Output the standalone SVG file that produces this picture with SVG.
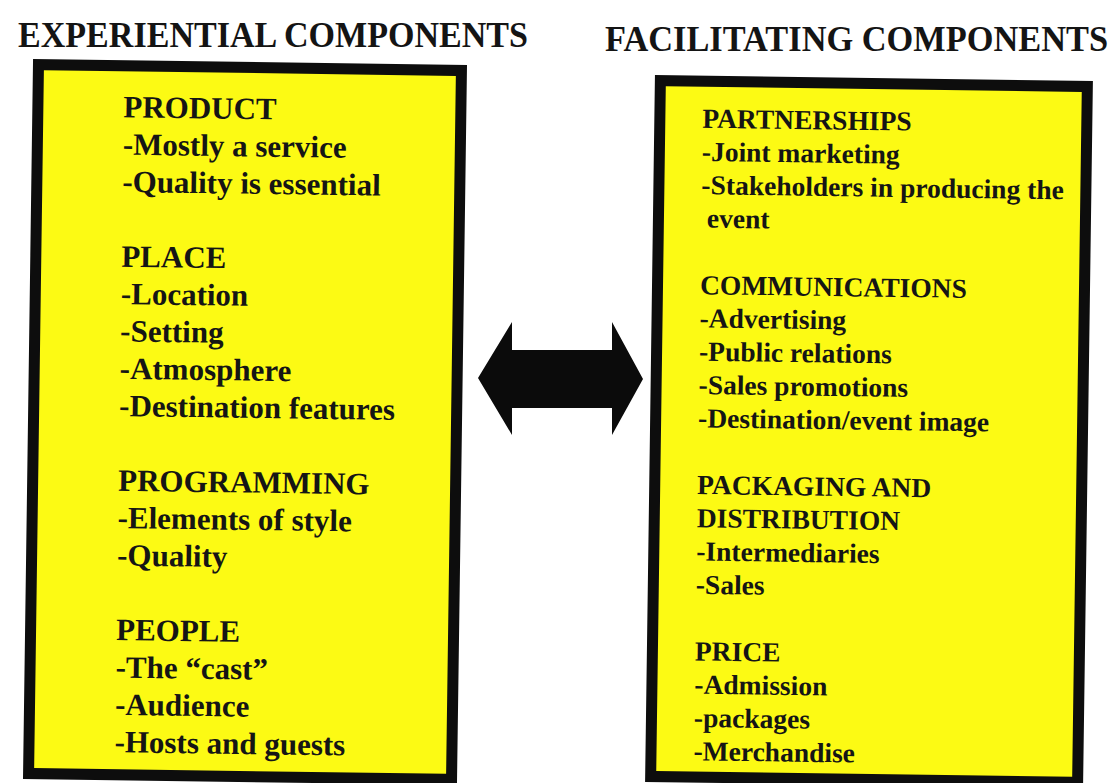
<svg xmlns="http://www.w3.org/2000/svg" width="1117" height="783" viewBox="0 0 1117 783">
  <style>
    .title { font-family: "Liberation Serif", "Times New Roman", serif; font-weight: bold; font-size: 35px; fill: #141414; }
    .box { fill: #FCFA14; stroke: #0d0d0d; stroke-width: 11; }
    .lt { font-family: "Liberation Serif", "Times New Roman", serif; font-weight: bold; font-size: 31px; fill: #151515; }
    .rt { font-family: "Liberation Serif", "Times New Roman", serif; font-weight: bold; font-size: 27.5px; fill: #151515; }
    .arrow { fill: #0b0b0b; }
  </style>
  <rect width="1117" height="783" fill="#ffffff"/>

  <!-- column headings -->
  <g id="headings">
    <text class="title" x="18" y="47" textLength="510" lengthAdjust="spacingAndGlyphs">EXPERIENTIAL COMPONENTS</text>
    <text class="title" x="605" y="51" textLength="503" lengthAdjust="spacingAndGlyphs">FACILITATING COMPONENTS</text>
  </g>

  <!-- left panel: experiential components -->
  <g id="experiential" transform="rotate(0.8 245 422)">
    <rect class="box" x="33.5" y="67.5" width="423" height="709"/>
    <text class="lt" x="119" y="119">PRODUCT</text>
    <text class="lt" x="119" y="156.4">-Mostly a service</text>
    <text class="lt" x="119" y="193.7">-Quality is essential</text>
    <text class="lt" x="119" y="268.4">PLACE</text>
    <text class="lt" x="119" y="305.8">-Location</text>
    <text class="lt" x="119" y="343.1">-Setting</text>
    <text class="lt" x="119" y="380.5">-Atmosphere</text>
    <text class="lt" x="119" y="417.8">-Destination features</text>
    <text class="lt" x="119" y="492.5">PROGRAMMING</text>
    <text class="lt" x="119" y="529.9">-Elements of style</text>
    <text class="lt" x="119" y="567.2">-Quality</text>
    <text class="lt" x="119" y="641.9">PEOPLE</text>
    <text class="lt" x="119" y="679.3">-The “cast”</text>
    <text class="lt" x="119" y="716.6">-Audience</text>
    <text class="lt" x="119" y="754">-Hosts and guests</text>
  </g>

  <!-- right panel: facilitating components -->
  <g id="facilitating" transform="rotate(0.8 869 431)">
    <rect class="box" x="655.5" y="83.5" width="427" height="696"/>
    <text class="rt" x="698" y="130">PARTNERSHIPS</text>
    <text class="rt" x="698" y="163.3">-Joint marketing</text>
    <text class="rt" x="698" y="196.6">-Stakeholders in producing the</text>
    <text class="rt" x="704" y="229.9">event</text>
    <text class="rt" x="698" y="296.5">COMMUNICATIONS</text>
    <text class="rt" x="698" y="329.8">-Advertising</text>
    <text class="rt" x="698" y="363.1">-Public relations</text>
    <text class="rt" x="698" y="396.4">-Sales promotions</text>
    <text class="rt" x="698" y="429.7">-Destination/event image</text>
    <text class="rt" x="698" y="496.3">PACKAGING AND</text>
    <text class="rt" x="698" y="529.6">DISTRIBUTION</text>
    <text class="rt" x="698" y="562.9">-Intermediaries</text>
    <text class="rt" x="698" y="596.2">-Sales</text>
    <text class="rt" x="698" y="662.8">PRICE</text>
    <text class="rt" x="698" y="696.1">-Admission</text>
    <text class="rt" x="698" y="729.4">-packages</text>
    <text class="rt" x="698" y="762.7">-Merchandise</text>
  </g>

  <!-- two-way link between the panels -->
  <g id="connectors">
    <polygon class="arrow" points="478,378 512,322 512,350 612,350 612,322 643,379 612,435 612,408 512,408 512,435"/>
  </g>
</svg>
